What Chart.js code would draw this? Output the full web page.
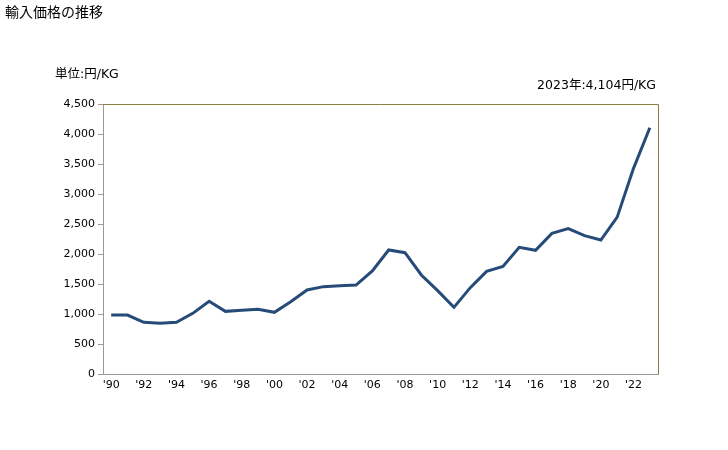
<!DOCTYPE html>
<html>
<head>
<meta charset="utf-8">
<script src="https://cdn.jsdelivr.net/npm/chart.js@4/dist/chart.umd.min.js"></script>
<style>
    html, body { margin: 0; padding: 0; background: #fff; }
    #wrap { width: 728px; height: 450px; }
</style>
</head>
<body>
<div id="wrap"><canvas id="priceChart"></canvas></div>
<script>
const years = [];
for (let y = 1990; y <= 2023; y++) years.push(String(y));

// 円/KG
const prices = [983, 983, 862, 845, 862, 1011, 1211, 1044, 1061, 1078,
    1028, 1206, 1400, 1456, 1472, 1483, 1717, 2067, 2022, 1650,
    1389, 1111, 1439, 1711, 1794, 2111, 2061, 2344, 2422, 2306,
    2233, 2614, 3428, 4104];

const yTicks = [0, 500, 1000, 1500, 2000, 2500, 3000, 3500, 4000, 4500];

const titleText = '輸入価格の推移';
const unitText = '単位:円/KG';
const noteText = '2023年:4,104円/KG';

const FONT = '"DejaVu Sans", "Noto Sans CJK JP", sans-serif';

const textPlugin = {
    id: 'textPlugin',
    afterDraw(chart) {
        const ctx = chart.ctx;
        const area = chart.chartArea;
        ctx.save();
        // frame top / right
        ctx.strokeStyle = '#8c7e40';
        ctx.lineWidth = 1;
        ctx.beginPath();
        ctx.moveTo(area.left, area.top + 0.5);
        ctx.lineTo(area.right + 0.5, area.top + 0.5);
        ctx.lineTo(area.right + 0.5, area.bottom);
        ctx.stroke();

        ctx.fillStyle = '#000';
        ctx.textBaseline = 'middle';
        ctx.font = '14px ' + FONT;
        ctx.textAlign = 'left';
        ctx.fillText(titleText, 5, 13);
        ctx.font = '12.5px ' + FONT;
        ctx.fillText(unitText, 55, 75);
        ctx.textAlign = 'right';
        ctx.fillText(noteText, 656, 86);
        ctx.restore();
    }
};

new Chart(document.getElementById('priceChart').getContext('2d'), {
    type: 'line',
    data: {
        labels: years,
        datasets: [{
            data: prices,
            borderColor: '#264b78',
            borderWidth: 3,
            pointRadius: 0,
            tension: 0,
            fill: false
        }]
    },
    options: {
        responsive: true,
        maintainAspectRatio: false,
        animation: false,
        layout: { padding: { top: 104, right: 70, left: 0, bottom: 0 } },
        plugins: {
            legend: { display: false },
            tooltip: { enabled: false }
        },
        scales: {
            x: {
                offset: true,
                grid: { display: false, drawTicks: false },
                border: { color: '#999', width: 1 },
                ticks: {
                    autoSkip: false,
                    maxRotation: 0,
                    padding: 5,
                    color: '#000',
                    font: { family: FONT, size: 11 },
                    callback: function (value, index) {
                        return index % 2 === 0 ? "'" + years[index].slice(2) : '';
                    }
                },
                afterFit: function (scale) { scale.height = 76; }
            },
            y: {
                min: 0,
                max: 4500,
                grid: { drawOnChartArea: false, tickLength: 5, color: '#999' },
                border: { color: '#999', width: 1 },
                afterBuildTicks: function (scale) {
                    scale.ticks = yTicks.map(v => ({ value: v }));
                },
                ticks: {
                    padding: 3,
                    color: '#000',
                    font: { family: FONT, size: 11 },
                    callback: function (value) { return value.toLocaleString('en-US'); }
                },
                afterFit: function (scale) { scale.width = 103; }
            }
        }
    },
    plugins: [textPlugin]
});
</script>
</body>
</html>
